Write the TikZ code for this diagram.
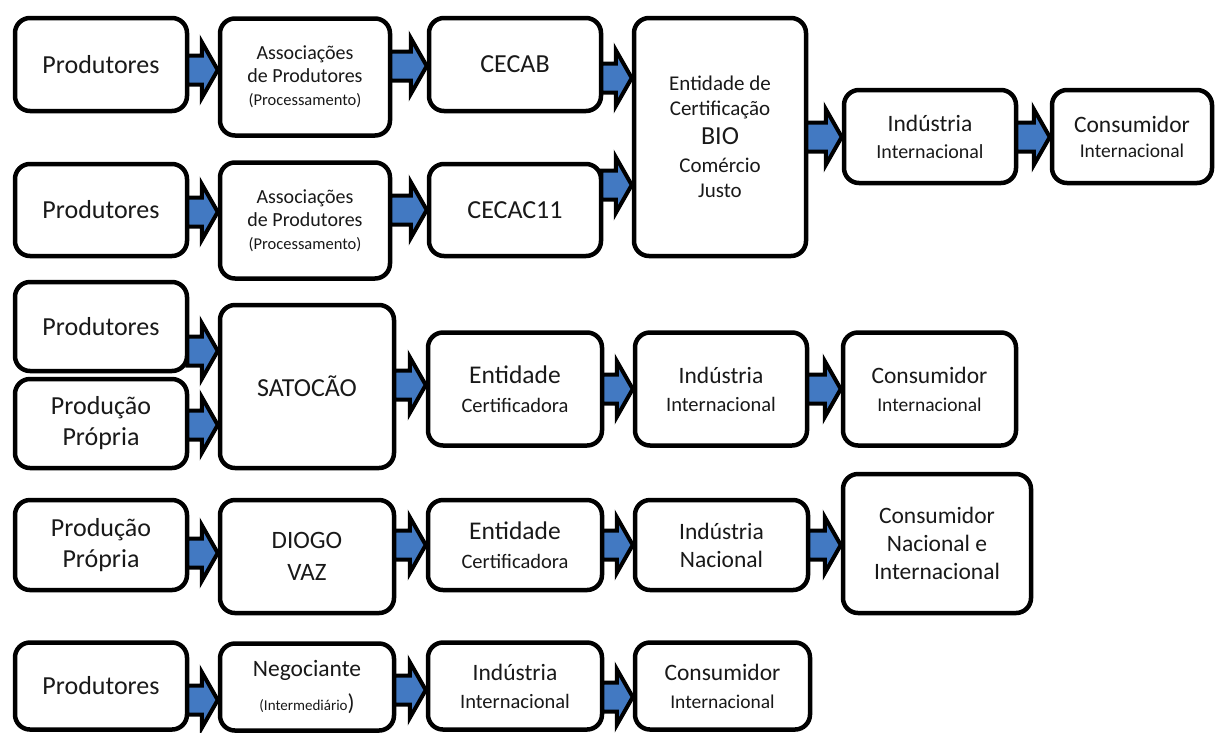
\documentclass[tikz,border=0pt]{standalone}
\usepackage{fontspec}
\setmainfont{Carlito}
\usetikzlibrary{calc}
\definecolor{flowblue}{RGB}{66,121,194}
\definecolor{txt}{RGB}{25,25,25}
\newcommand{\fsz}[2]{\fontsize{#1}{#2}\selectfont}
\newcommand{\flow}[3]{%
  \path (#1.east |- 0,#3) coordinate (fa) (#2.west |- 0,#3) coordinate (fb);
  \filldraw[flowarrow] ([xshift=-2pt,yshift=14.5pt]fa) -- ([xshift=-16pt,yshift=14.5pt]fb)
    -- ([xshift=-16pt,yshift=28pt]fb) -- (fb) -- ([xshift=-16pt,yshift=-28pt]fb)
    -- ([xshift=-16pt,yshift=-14.5pt]fb) -- ([xshift=-2pt,yshift=-14.5pt]fa) -- cycle;}
\begin{document}
\begin{tikzpicture}[x=1pt,y=-1pt,
  box/.style={draw=black, line width=4.5pt, rounded corners=15pt, fill=white,
    align=center, text=txt, inner sep=0pt},
  flowarrow/.style={draw=black, fill=flowblue, line width=4pt, line join=miter}]
\useasboundingbox (0,0) rectangle (1217,732);

% Row 1
\node[box, minimum width=172pt, minimum height=93pt, font=\fsz{26}{30}] (p1) at (101,64.5) {Produtores};
\node[box, minimum width=170pt, minimum height=117pt, font=\fsz{20}{23}] (a1) at (305,77)
  {Associações\\de Produtores\\{\fsz{16.5}{23}(Processamento)}};
\node[box, minimum width=172pt, minimum height=93pt, font=\fsz{26}{30}] (cecab) at (515,64.5) {CECAB};
\node[box, minimum width=172pt, minimum height=238pt, font=\fsz{21}{25}] (ent) at (720,137)
  {Entidade de\\Certificação\\[4pt]{\fsz{26}{30}BIO}\\[3pt]Comércio\\Justo};
\node[box, minimum width=172pt, minimum height=93pt, font=\fsz{23.5}{27}] (ind1) at (930,136.5)
  {Indústria\\{\fsz{20}{27}Internacional}};
\node[box, minimum width=160pt, minimum height=93pt, font=\fsz{23.5}{25}] (con1) at (1132,136.5)
  {Consumidor\\{\fsz{19.5}{25}Internacional}};

% Row 2
\node[box, minimum width=172pt, minimum height=92pt, font=\fsz{26}{30}] (p2) at (101,210) {Produtores};
\node[box, minimum width=170pt, minimum height=116pt, font=\fsz{20}{23}] (a2) at (305,220.5)
  {Associações\\de Produtores\\{\fsz{16.5}{23}(Processamento)}};
\node[box, minimum width=172pt, minimum height=92pt, font=\fsz{26}{30}] (cecac) at (515,210) {CECAC11};

% Row 3
\node[box, minimum width=172pt, minimum height=89pt, font=\fsz{26}{30}] (p3) at (101,326.5) {Produtores};
\node[box, minimum width=172pt, minimum height=89pt, font=\fsz{26}{31}] (pp3) at (101,423.5) {Produção\\Própria};
\node[box, minimum width=174pt, minimum height=163pt, font=\fsz{26}{30}] (sat) at (307,386.5) {SATOCÃO};
\node[box, minimum width=174pt, minimum height=113pt, font=\fsz{25.5}{29}] (ent3) at (515,389)
  {Entidade\\{\fsz{20.5}{29}Certificadora}};
\node[box, minimum width=172pt, minimum height=113pt, font=\fsz{23.5}{28}] (ind3) at (721,389)
  {Indústria\\{\fsz{20.5}{28}Internacional}};
\node[box, minimum width=173pt, minimum height=113pt, font=\fsz{23.5}{28}] (con3) at (929.5,389)
  {Consumidor\\{\fsz{19.5}{28}Internacional}};

% Row 4
\node[box, minimum width=172pt, minimum height=90pt, font=\fsz{26}{31}] (pp4) at (101,545) {Produção\\Própria};
\node[box, minimum width=174pt, minimum height=113pt, font=\fsz{25}{32}] (diogo) at (307,556.5) {DIOGO\\VAZ};
\node[box, minimum width=174pt, minimum height=90pt, font=\fsz{25.5}{29}] (ent4) at (515,545)
  {Entidade\\{\fsz{20.5}{29}Certificadora}};
\node[box, minimum width=173pt, minimum height=90pt, font=\fsz{23.5}{28}] (ind4) at (721.5,545)
  {Indústria\\Nacional};
\node[box, minimum width=188pt, minimum height=139pt, font=\fsz{23.5}{28}] (con4) at (937,543.5)
  {Consumidor\\Nacional e\\Internacional};

% Row 5
\node[box, minimum width=172pt, minimum height=87pt, font=\fsz{26}{30}] (p5) at (101,686) {Produtores};
\node[box, minimum width=174pt, minimum height=87pt, font=\fsz{23.5}{34}] (neg) at (307,687)
  {Negociante\\{\fsz{15}{34}(Intermediário}{\fsz{23}{34})}};
\node[box, minimum width=174pt, minimum height=87pt, font=\fsz{23.5}{28}] (ind5) at (515,686)
  {Indústria\\{\fsz{20.5}{28}Internacional}};
\node[box, minimum width=175pt, minimum height=87pt, font=\fsz{23.5}{28}] (con5) at (722.5,686)
  {Consumidor\\{\fsz{19.5}{28}Internacional}};

% Arrows
\flow{p1}{a1}{70}
\flow{a1}{cecab}{66}
\flow{cecab}{ent}{78}
\flow{cecac}{ent}{185}
\flow{ent}{ind1}{137}
\flow{ind1}{con1}{137}
\flow{p2}{a2}{212}
\flow{a2}{cecac}{210}
\flow{p3}{sat}{351}
\flow{pp3}{sat}{425}
\flow{sat}{ent3}{385}
\flow{ent3}{ind3}{389}
\flow{ind3}{con3}{389}
\flow{pp4}{diogo}{553}
\flow{diogo}{ent4}{545}
\flow{ent4}{ind4}{545}
\flow{ind4}{con4}{545}
\flow{p5}{neg}{700}
\flow{neg}{ind5}{690}
\flow{ind5}{con5}{697}
\end{tikzpicture}
\end{document}
